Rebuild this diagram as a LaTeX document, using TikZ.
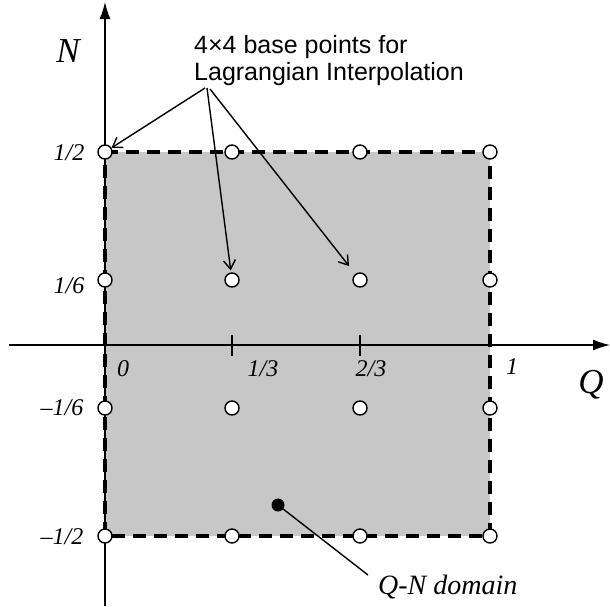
\documentclass[tikz,border=0pt]{standalone}
\usepackage{fontspec}
\setmainfont{Liberation Serif}
\newfontfamily\sansf{Liberation Sans}
\usetikzlibrary{arrows.meta}
\begin{document}
\begin{tikzpicture}[x=1pt,y=-1pt,
  basept/.style={circle, draw=black, fill=white, line width=1.4pt, minimum size=14pt, inner sep=0pt},
  lbl/.style={font=\fontsize{24}{26}\selectfont\itshape, inner sep=0pt},
  biglbl/.style={font=\fontsize{35}{38}\selectfont\itshape, inner sep=0pt},
  axisline/.style={line width=1.4pt, -{Latex[length=17pt,width=11pt]}},
  callout/.style={line width=1.4pt, -{Straight Barb[length=9pt,width=12pt,line width=1.4pt]}},
  border/.style={line width=3.2pt, dash pattern=on 13pt off 8pt},
  tick/.style={line width=1.4pt}]
\useasboundingbox (0,0) rectangle (610,606);
% domain
\fill[black!22] (105,152) rectangle (490,536);
% axes
\coordinate (nstart) at (105,606);
\coordinate (ntip) at (105,2);
\coordinate (qstart) at (9,345);
\coordinate (qtip) at (610,345);
\draw[axisline] (nstart) -- (ntip);
\draw[axisline] (qstart) -- (qtip);
\coordinate (t1a) at (232,335); \coordinate (t1b) at (232,356);
\coordinate (t2a) at (360,335); \coordinate (t2b) at (360,356);
\draw[tick] (t1a) -- (t1b);
\draw[tick] (t2a) -- (t2b);
% dashed border
\draw[border] (105,152) -- (490,152) -- (490,536) -- (105,536) -- cycle;
% base points
\foreach \i/\x in {1/105,2/232,3/360,4/490}{
  \foreach \j/\y in {1/152,2/280,3/408,4/536}{
    \node[basept] (p\i\j) at (\x,\y) {};
  }
}
% axis labels
\node[biglbl] (nlab) at (68,51) {N};
\node[biglbl] (qlab) at (591,385) {Q};
\node[lbl] (l12) at (69,153) {1/2};
\node[lbl] (l16) at (69,286) {1/6};
\node[lbl] (lm16) at (62,408) {–1/6};
\node[lbl] (lm12) at (62,537) {–1/2};
\node[lbl] (l0) at (123,369) {0};
\node[lbl] (l13) at (263,369) {1/3};
\node[lbl] (l23) at (371,369) {2/3};
\node[lbl] (l1) at (512,367) {1};
% annotation
\node[font=\sansf\fontsize{25}{27}\selectfont, align=left, inner sep=0pt, anchor=north west] (ann) at (194,35) {4×4 base points for\\Lagrangian Interpolation};
\coordinate (a0) at (205,88);
\coordinate (a1) at (207,88);
\coordinate (a2) at (210,89);
\draw[callout] (a0) -- (p11);
\draw[callout, shorten >=2pt] (a1) -- (p22);
\draw[callout, shorten >=10pt] (a2) -- (p32);
% Q-N domain
\node[circle, fill=black, minimum size=13pt, inner sep=0pt] (dot) at (278,505) {};
\coordinate (dend) at (368,575);
\draw[line width=1.4pt] (dot.center) -- (dend);
\node[font=\fontsize{28}{30}\selectfont\itshape, inner sep=0pt, anchor=base west] (qn) at (378,594) {Q-N domain};
\end{tikzpicture}
\end{document}
